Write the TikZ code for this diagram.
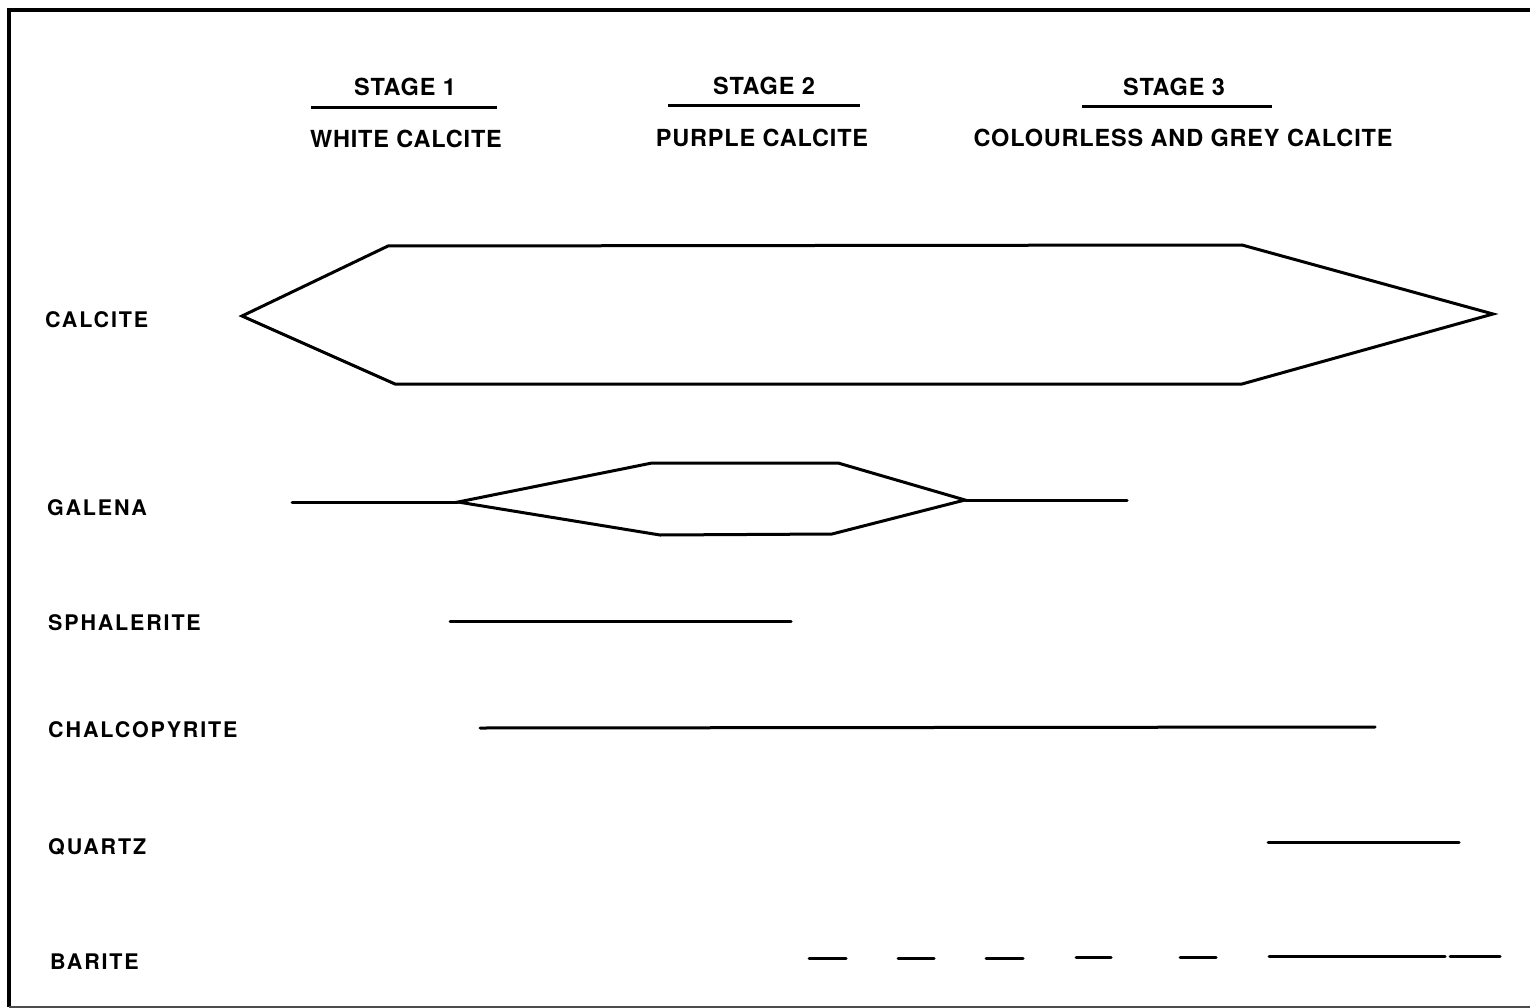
\documentclass[tikz,border=0pt]{standalone}
\usepackage{fontspec}
\setmainfont{TeX Gyre Heros}
\newfontfamily\lblfont[LetterSpace=8.5]{TeX Gyre Heros}
\newfontfamily\hdrfont[LetterSpace=3.5]{TeX Gyre Heros}
\begin{document}
\begin{tikzpicture}[x=1pt,y=-1pt,
  hdr/.style={font=\hdrfont\fontsize{23.5}{26}\selectfont\bfseries, inner sep=0pt, anchor=base},
  lbl/.style={font=\lblfont\fontsize{21.5}{24}\selectfont\bfseries, inner sep=0pt, anchor=base west},
  bar/.style={line width=3pt, line cap=round, line join=miter},
  uline/.style={line width=3pt},
  frame/.style={line width=4.5pt}]
\useasboundingbox (0,0) rectangle (1530,1008);
% frame
\coordinate (fbl) at (9,1007);
\coordinate (ftl) at (9,10);
\coordinate (ftr) at (1532,10);
\coordinate (fbr) at (1532,1007);
\draw[frame] (fbl) -- (ftl) -- (ftr);
\draw[line width=2pt, black!70] (fbl) -- (fbr);
% headers
\node[hdr] (s1) at (405,96) {STAGE 1};
\node[hdr] (s2) at (764,95) {STAGE 2};
\node[hdr] (s3) at (1174,96) {STAGE 3};
\coordinate (u1a) at (311,108); \coordinate (u1b) at (497,108);
\coordinate (u2a) at (668,106); \coordinate (u2b) at (860,106);
\coordinate (u3a) at (1082,107); \coordinate (u3b) at (1272,107);
\draw[uline] (u1a) -- (u1b);
\draw[uline] (u2a) -- (u2b);
\draw[uline] (u3a) -- (u3b);
\node[hdr] (c1) at (406,148) {WHITE CALCITE};
\node[hdr] (c2) at (762,147) {PURPLE CALCITE};
\node[hdr] (c3) at (1183,147) {COLOURLESS AND GREY CALCITE};
% row labels
\node[lbl] (lcal) at (45,327) {CALCITE};
\node[lbl] (lgal) at (47,515) {GALENA};
\node[lbl] (lsph) at (48,630) {SPHALERITE};
\node[lbl] (lcha) at (48,737) {CHALCOPYRITE};
\node[lbl] (lqtz) at (48,854) {QUARTZ};
\node[lbl] (lbar) at (50,969) {BARITE};
% calcite
\coordinate (ca1) at (242,316);
\coordinate (ca2) at (388,246);
\coordinate (ca3) at (1242,245);
\coordinate (ca4) at (1493,314);
\coordinate (ca5) at (1242,384);
\coordinate (ca6) at (395,384);
\draw[bar] (ca1) -- (ca2) -- (ca3) -- (ca4) -- (ca5) -- (ca6) -- cycle;
% galena
\coordinate (ga0) at (292,502);
\coordinate (ga1) at (458,502);
\coordinate (ga2) at (652,463);
\coordinate (ga3) at (838,463);
\coordinate (ga4) at (965,500);
\coordinate (ga5) at (832,534);
\coordinate (ga6) at (660,535);
\coordinate (ga7) at (1127,500);
\draw[bar] (ga0) -- (ga1);
\draw[bar] (ga1) -- (ga2) -- (ga3) -- (ga4) -- (ga5) -- (ga6) -- cycle;
\draw[bar] (ga4) -- (ga7);
% sphalerite
\coordinate (sp1) at (450,621); \coordinate (sp2) at (791,621);
\draw[bar] (sp1) -- (sp2);
% chalcopyrite
\coordinate (ch1) at (480,728); \coordinate (ch2) at (1375,727);
\draw[bar] (ch1) -- (ch2);
% quartz
\coordinate (qz1) at (1268,842); \coordinate (qz2) at (1459,842);
\draw[bar] (qz1) -- (qz2);
% barite
\coordinate (b1a) at (809,958); \coordinate (b1b) at (846,958);
\coordinate (b2a) at (898,958); \coordinate (b2b) at (934,958);
\coordinate (b3a) at (986,958); \coordinate (b3b) at (1023,958);
\coordinate (b4a) at (1076,957); \coordinate (b4b) at (1111,957);
\coordinate (b5a) at (1180,957); \coordinate (b5b) at (1216,957);
\coordinate (b6a) at (1269,956); \coordinate (b6b) at (1445,956);
\coordinate (b7a) at (1450,956); \coordinate (b7b) at (1500,956);
\draw[bar] (b1a) -- (b1b);
\draw[bar] (b2a) -- (b2b);
\draw[bar] (b3a) -- (b3b);
\draw[bar] (b4a) -- (b4b);
\draw[bar] (b5a) -- (b5b);
\draw[bar] (b6a) -- (b6b);
\draw[bar] (b7a) -- (b7b);
\end{tikzpicture}
\end{document}
